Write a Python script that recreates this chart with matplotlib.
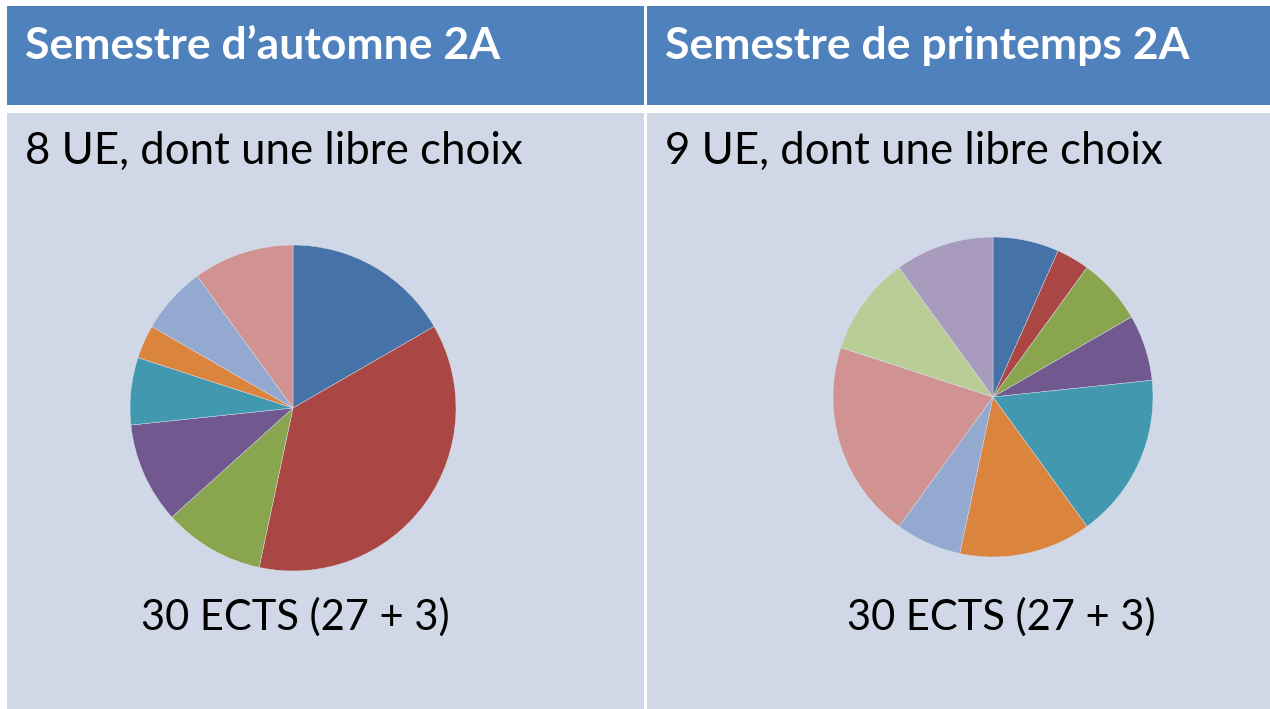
import matplotlib.pyplot as plt
from matplotlib.patches import Rectangle

W, H = 1270, 709

# ECTS per UE (clockwise from 12 o'clock)
autumn_ects = [5, 11, 3, 3, 2, 1, 2, 3]
spring_ects = [2, 1, 2, 2, 5, 4, 2, 6, 3, 3]

titles = ["Semestre d\u2019automne 2A", "Semestre de printemps 2A"]
subtitles = ["8 UE, dont une libre choix", "9 UE, dont une libre choix"]
totals = ["30 ECTS (27 + 3)", "30 ECTS (27 + 3)"]

palette = ['#4572A7', '#AA4643', '#89A54E', '#71588F', '#4198AF',
           '#DB843D', '#93A9CF', '#D19392', '#B9CD96', '#A99BBD']

plt.rcParams['font.family'] = ['Lato', 'DejaVu Sans']

fig = plt.figure(figsize=(W / 100, H / 100), dpi=100)
bg = fig.add_axes([0, 0, 1, 1])
bg.set_xlim(0, W)
bg.set_ylim(H, 0)
bg.axis('off')

# table cells: (x0, x1)
cols = [(7, 644), (647, 1270)]
for (x0, x1), t, s in zip(cols, titles, subtitles):
    bg.add_patch(Rectangle((x0, 6), x1 - x0, 99, color='#4F81BD', lw=0))
    bg.add_patch(Rectangle((x0, 113), x1 - x0, H - 113, color='#D0D8E8', lw=0))
    bg.text(x0 + 18, 46, t, color='white', fontsize=32, fontweight='bold',
            va='center', ha='left')
    bg.text(x0 + 18, 151, s, color='black', fontsize=31.5, va='center', ha='left')

bg.text(295, 617, totals[0], fontsize=30, va='center', ha='center')
bg.text(1001, 617, totals[1], fontsize=30, va='center', ha='center')


def pie_at(cx, cy, r, vals):
    ax = fig.add_axes([(cx - r) / W, 1 - (cy + r) / H, 2 * r / W, 2 * r / H])
    ax.pie(vals, colors=palette[:len(vals)], startangle=90, counterclock=False,
           wedgeprops=dict(linewidth=0.3, edgecolor='#dde3ee'))
    ax.set_xlim(-1, 1)
    ax.set_ylim(-1, 1)
    ax.axis('off')


pie_at(293, 408, 163, autumn_ects)
pie_at(993, 397, 160, spring_ects)

fig.savefig('out.png', dpi=100)
